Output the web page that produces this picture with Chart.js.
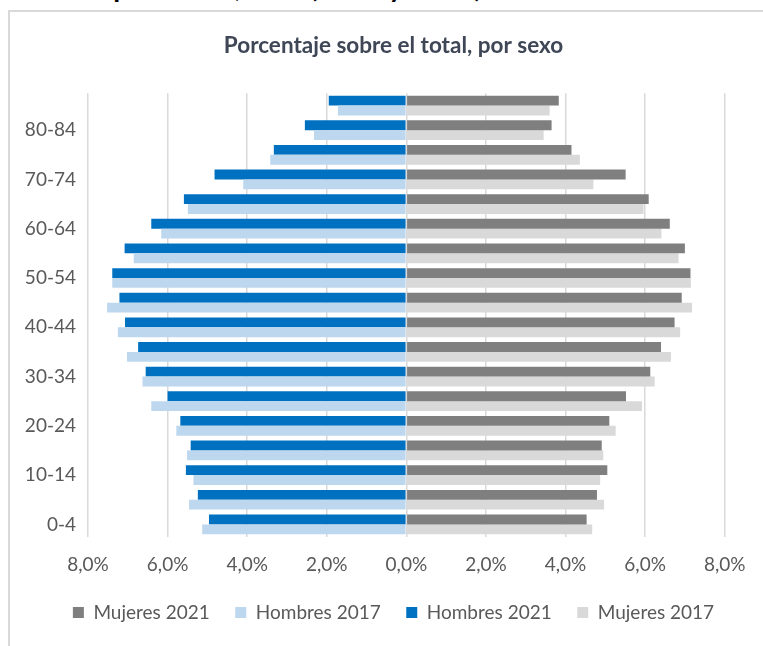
<!DOCTYPE html>
<html lang="es">
<head>
<meta charset="utf-8">
<title>Pirámide de población</title>
<script src="https://cdn.jsdelivr.net/npm/chart.js@4/dist/chart.umd.min.js"></script>
<style>
  html, body { margin: 0; padding: 0; background: #fff; overflow: hidden; }
  body { width: 763px; height: 646px; position: relative; font-family: Lato, sans-serif; }
  .page-title {
    position: absolute; right: 281px; top: -28px;
    font: bold 28px/28px Lato, sans-serif; color: #000; white-space: nowrap;
  }
  .frame {
    position: absolute; left: 8px; top: 10px; width: 800px; height: 700px;
    border: 2px solid #d9d9d9;
  }
  #wrap { position: absolute; left: 0; top: 0; width: 763px; height: 646px; }
</style>
</head>
<body>
<div class="page-title">Pirámide de población, CAV (2017 y 2021)</div>
<div class="frame"></div>
<div id="wrap"><canvas id="chart-piramide"></canvas></div>
<script>
// grupos de edad, de menor a mayor
const ageGroups = ['0-4', '5-9', '10-14', '15-19', '20-24', '25-29', '30-34', '35-39', '40-44',
  '45-49', '50-54', '55-59', '60-64', '65-69', '70-74', '75-79', '80-84', '85+'];

// % sobre el total
const hombres2021 = [4.96, 5.24, 5.54, 5.42, 5.68, 6.00, 6.55, 6.74, 7.07,
  7.21, 7.39, 7.08, 6.41, 5.59, 4.82, 3.33, 2.55, 1.95];
const hombres2017 = [5.13, 5.46, 5.35, 5.51, 5.78, 6.41, 6.63, 7.02, 7.25,
  7.52, 7.39, 6.85, 6.16, 5.49, 4.10, 3.42, 2.32, 1.72];
const mujeres2021 = [4.53, 4.79, 5.05, 4.91, 5.10, 5.52, 6.13, 6.40, 6.74,
  6.92, 7.14, 7.00, 6.62, 6.09, 5.51, 4.15, 3.65, 3.83];
const mujeres2017 = [4.67, 4.97, 4.87, 4.95, 5.26, 5.92, 6.24, 6.65, 6.88,
  7.18, 7.15, 6.84, 6.41, 5.96, 4.70, 4.36, 3.45, 3.60];

const axisTicks = [-8, -6, -4, -2, 0, 2, 4, 6, 8];

const tickColor = '#595959';
const fontFamily = 'Lato, sans-serif';

const fmtPct = v => Math.abs(v).toFixed(1).replace('.', ',') + '%';

new Chart(document.getElementById('chart-piramide'), {
  type: 'bar',
  data: {
    labels: ageGroups,
    datasets: [
      { label: 'Mujeres 2021', data: mujeres2021, backgroundColor: '#7f7f7f', stack: 'y2021' },
      { label: 'Hombres 2017', data: hombres2017.map(v => -v), backgroundColor: '#bdd7ee', stack: 'y2017' },
      { label: 'Hombres 2021', data: hombres2021.map(v => -v), backgroundColor: '#0070c0', stack: 'y2021' },
      { label: 'Mujeres 2017', data: mujeres2017, backgroundColor: '#d9d9d9', stack: 'y2017' }
    ]
  },
  options: {
    indexAxis: 'y',
    responsive: true,
    maintainAspectRatio: false,
    animation: false,
    categoryPercentage: 0.8,
    barPercentage: 1.0,
    layout: { padding: { left: 24, right: 0, top: 0, bottom: 14 } },
    plugins: {
      title: {
        display: true,
        text: 'Porcentaje sobre el total, por sexo',
        color: '#3f4756',
        font: { family: fontFamily, size: 22.5, weight: 'bold' },
        padding: { top: 32.5, bottom: 33.7 }
      },
      legend: {
        position: 'bottom',
        labels: {
          color: tickColor,
          font: { family: fontFamily, size: 19 },
          boxWidth: 11,
          boxHeight: 11,
          padding: 25.5
        }
      },
      tooltip: {
        callbacks: { label: (ctx) => ctx.dataset.label + ': ' + fmtPct(ctx.parsed.x) }
      }
    },
    scales: {
      x: {
        stacked: true,
        min: -8,
        max: 8,
        afterBuildTicks: (axis) => { axis.ticks = axisTicks.map(v => ({ value: v })); },
        afterFit: (axis) => { axis.height = 40.8; axis.paddingRight = 38.3; },
        grid: { color: '#d9d9d9', lineWidth: 1.5, drawTicks: false },
        border: { display: false },
        ticks: {
          color: tickColor,
          padding: 17,
          font: { family: fontFamily, size: 19 },
          callback: (v) => fmtPct(v)
        }
      },
      y: {
        stacked: true,
        reverse: true,
        afterFit: (axis) => { axis.width = 64; },
        grid: { display: false, drawTicks: false },
        border: { display: false },
        ticks: {
          color: tickColor,
          padding: 12,
          autoSkip: false,
          font: { family: fontFamily, size: 19 },
          callback: (v, i) => i % 2 === 0 ? ageGroups[i] : ''
        }
      }
    }
  }
});
</script>
</body>
</html>
